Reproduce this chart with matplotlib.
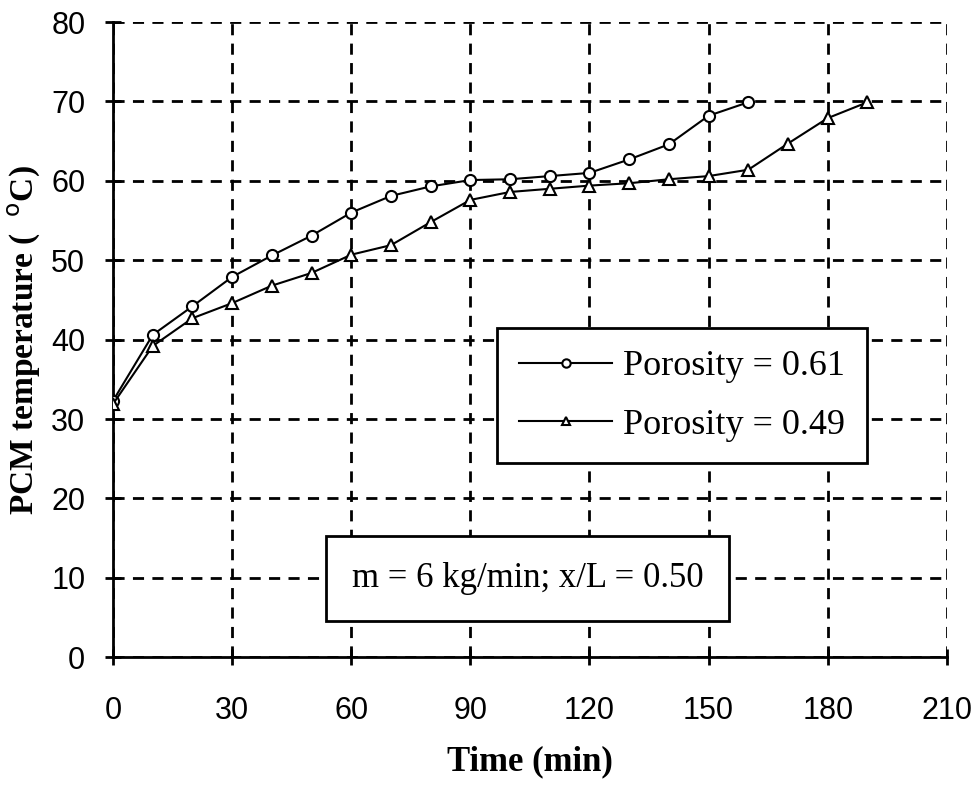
import matplotlib
matplotlib.use("Agg")
import matplotlib.pyplot as plt

time_061 = [0, 10, 20, 30, 40, 50, 60, 70, 80, 90, 100, 110, 120, 130, 140, 150, 160]
temp_061 = [32.3, 40.6, 44.2, 47.9, 50.6, 53.1, 56.0, 58.1, 59.3, 60.1, 60.2, 60.6, 61.0, 62.7, 64.6, 68.2, 69.9]
time_049 = [0, 10, 20, 30, 40, 50, 60, 70, 80, 90, 100, 110, 120, 130, 140, 150, 160, 170, 180, 190]
temp_049 = [31.9, 39.2, 42.7, 44.6, 46.8, 48.4, 50.7, 51.9, 54.8, 57.6, 58.6, 59.0, 59.4, 59.7, 60.2, 60.6, 61.4, 64.7, 67.9, 69.9]
xticks = [0, 30, 60, 90, 120, 150, 180, 210]
yticks = [0, 10, 20, 30, 40, 50, 60, 70, 80]

fig = plt.figure(figsize=(9.78, 7.88), dpi=100)
ax = fig.add_axes([0.1156, 0.166, 0.8525, 0.806])

ax.plot(time_061, temp_061, color="black", lw=1.5, marker="o", ms=8,
        mfc="white", mec="black", mew=1.5, label="Porosity = 0.61", zorder=3)
ax.plot(time_049, temp_049, color="black", lw=1.5, marker="^", ms=9,
        mfc="white", mec="black", mew=1.5, label="Porosity = 0.49", zorder=3)

ax.set_xlim(0, 210)
ax.set_ylim(0, 80)
ax.set_xticks(xticks)
ax.set_yticks(yticks)
ax.grid(True, color="black", linestyle=(0, (4, 3)), lw=2)
ax.set_axisbelow(True)
for s in ["top", "right"]:
    ax.spines[s].set_visible(False)
for s in ["left", "bottom"]:
    ax.spines[s].set_linewidth(2)
ax.tick_params(direction="inout", length=12, width=2, labelsize=22)
ax.tick_params(axis="x", pad=22)
ax.tick_params(axis="y", pad=14)
for lab in ax.get_xticklabels() + ax.get_yticklabels():
    lab.set_fontfamily("Liberation Sans")

ax.set_xlabel("Time (min)", fontsize=25, fontweight="bold", family="Liberation Serif", labelpad=14)
ax.set_ylabel("PCM temperature (  $^{\\mathrm{o}}$C)", fontsize=24, fontweight="bold",
              family="Liberation Serif", labelpad=6)

leg = ax.legend(loc="upper left", bbox_to_anchor=(0.4604, 0.518), frameon=True,
                fancybox=False, edgecolor="black", framealpha=1,
                prop={"family": "Liberation Serif", "size": 26},
                handlelength=2.6, borderpad=0.6, labelspacing=0.7, handletextpad=0.3,
                borderaxespad=0)
leg.get_frame().set_linewidth(2)
for h in leg.legend_handles:
    h.set_markersize(6)

ax.text(0.497, 0.1236, "m = 6 kg/min; x/L = 0.50", transform=ax.transAxes,
        fontsize=25, family="Liberation Serif", ha="center", va="center",
        bbox=dict(boxstyle="square,pad=0.75", fc="white", ec="black", lw=2), zorder=5)

fig.savefig("out.png", dpi=100)
